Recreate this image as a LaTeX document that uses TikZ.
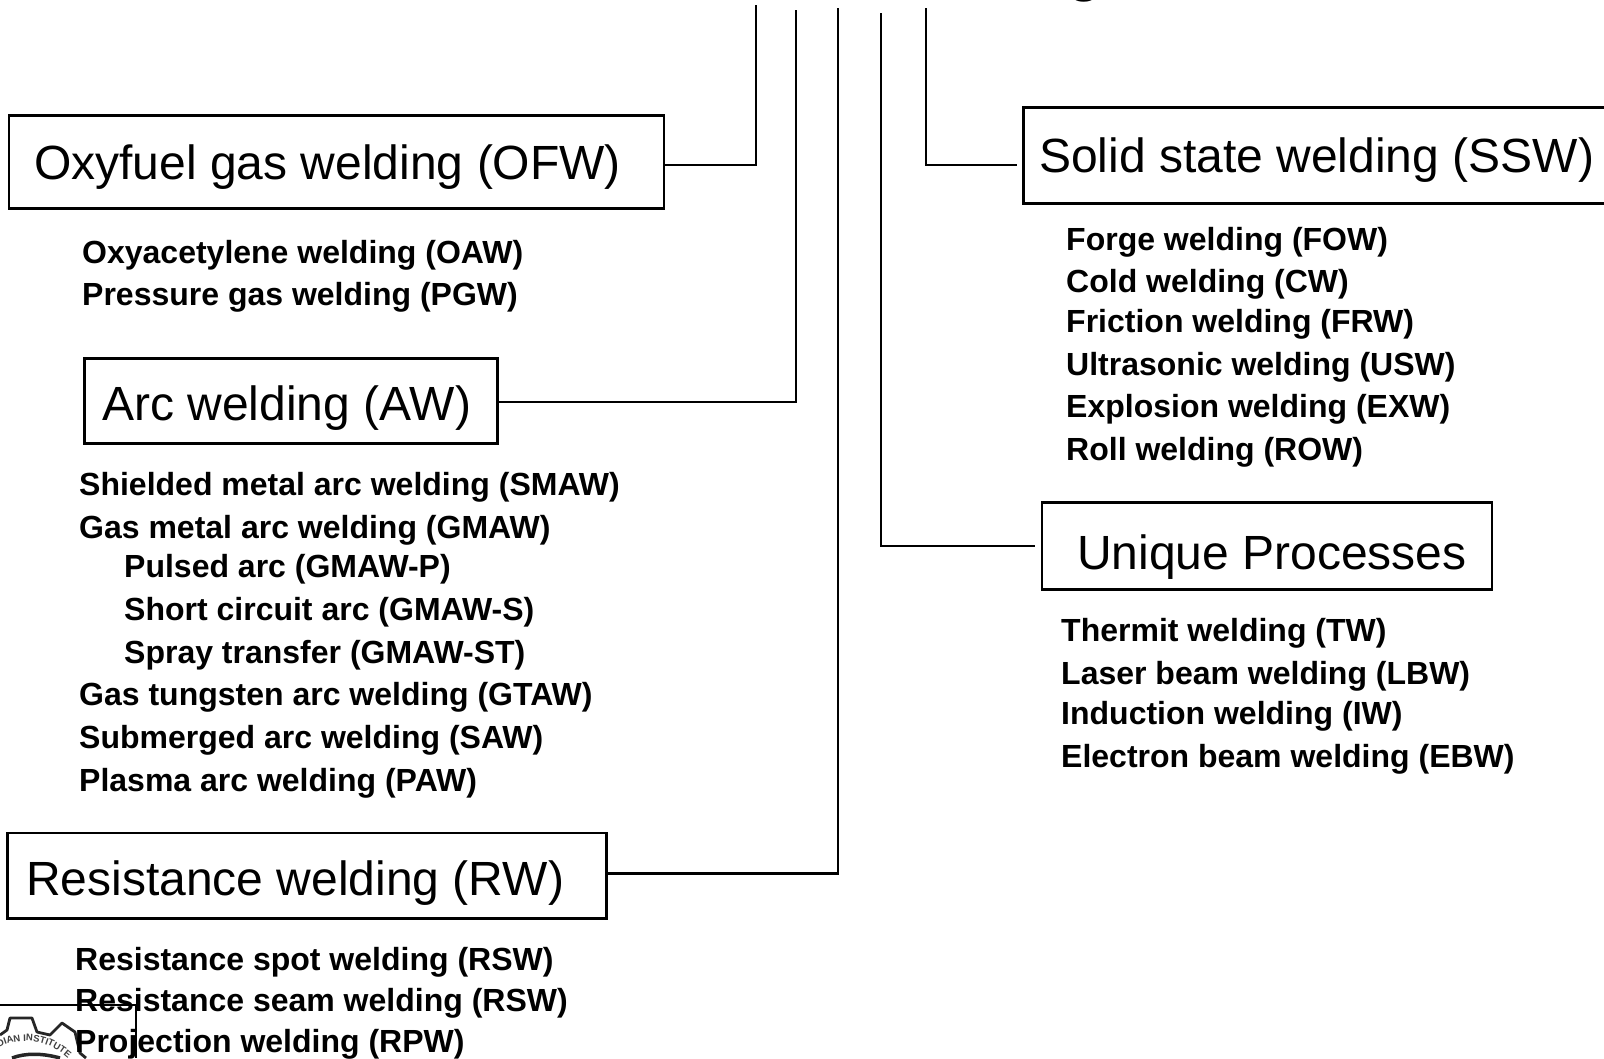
\documentclass[tikz,border=0pt]{standalone}
\usepackage{fontspec}
\setmainfont{Liberation Sans}
\usetikzlibrary{decorations.text}
\tikzset{
  x=1pt,y=-1pt,
  box/.style={draw=black,line width=2.6pt,inner sep=0pt,anchor=north west},
  boxlabel/.style={font=\fontsize{48}{48}\selectfont,anchor=base west,inner sep=0pt},
  item/.style={font=\bfseries\fontsize{32}{32}\selectfont,anchor=base west,inner sep=0pt},
  wire/.style={draw=black,line width=2.6pt,line cap=butt},
  logo/.style={draw=black!85,line width=2.8pt,line join=round},
}
\begin{document}
\begin{tikzpicture}
\useasboundingbox (0,0) rectangle (1604,1058);
\clip (0,0) rectangle (1604,1058);
\fill[white] (0,0) rectangle (1604,1058);
% logo fragment
\draw[logo] (0,1035) -- (7,1030) -- (10,1018) -- (32,1018) -- (37,1032) -- (50,1035) -- (62,1023) -- (75,1032) -- (80,1053) -- (86,1058);
\draw[black!85,line width=3.5pt] (12,1058) .. controls (25,1053) and (42,1053) .. (60,1058);
\path[decorate,decoration={text along path,text align=center,
  text={|\bfseries\fontsize{9.5}{9.5}\selectfont\color{black!75}|INDIAN INSTITUTE}}]
  (-14,1056) .. controls (10,1036) and (45,1034) .. (72,1062);
\coordinate (lgL) at (0,1005);
\coordinate (lgC) at (136,1005);
\coordinate (lgB) at (136,1058);
\draw[black,line width=2.6pt] (lgL) -- (lgC) -- (lgB);
% boxes
\node[box,minimum width=655pt,minimum height=93pt] (ofw) at (7.8,114.2) {};
\node[box,minimum width=413pt,minimum height=85pt] (aw) at (83,357) {};
\node[box,minimum width=599pt,minimum height=85.5pt] (rw) at (6,831.5) {};
\node[box,minimum width=620pt,minimum height=96pt] (ssw) at (1022,106) {};
\node[box,minimum width=450pt,minimum height=87pt] (up) at (1040.5,501) {};
% box labels
\node[boxlabel] (ofwt) at (34,179) {Oxyfuel gas welding (OFW)};
\node[boxlabel] (awt) at (102,420) {Arc welding (AW)};
\node[boxlabel] (rwt) at (26,895) {Resistance welding (RW)};
\node[boxlabel] (sswt) at (1039,172) {Solid state welding (SSW)};
\node[boxlabel] (upt) at (1077,569) {Unique Processes};
% heading remnant
\node[font=\fontsize{66}{66}\selectfont,anchor=base,inner sep=0pt] (head) at (1085,-12) {g};
% connector ends
\coordinate (t1) at (756,5);
\coordinate (t2) at (796,10);
\coordinate (t3) at (838,8);
\coordinate (t4) at (881,13);
\coordinate (t5) at (926,8);
\draw[wire] (t1) |- (ofw.east |- 0,165);
\draw[wire] (t2) |- (aw.east |- 0,402);
\draw[wire] (t3) |- (rw.east |- 0,873.5);
\draw[wire] (t4) |- (1035,546);
\draw[wire] (t5) |- (1017,165);
% items
\foreach \t/\xx/\yy/\n in {
Oxyacetylene welding (OAW)/82/263/a1,
Pressure gas welding (PGW)/82/305/a2,
Shielded metal arc welding (SMAW)/79/495/b1,
Gas metal arc welding (GMAW)/79/538/b2,
Pulsed arc (GMAW-P)/124/577/b3,
Short circuit arc (GMAW-S)/124/620/b4,
Spray transfer (GMAW-ST)/124/663/b5,
Gas tungsten arc welding (GTAW)/79/705/b6,
Submerged arc welding (SAW)/79/748/b7,
Plasma arc welding (PAW)/79/791/b8,
Resistance spot welding (RSW)/75/970/c1,
Resistance seam welding (RSW)/75/1011/c2,
Projection welding (RPW)/75/1052/c3,
Forge welding (FOW)/1066/250/d1,
Cold welding (CW)/1066/292/d2,
Friction welding (FRW)/1066/332/d3,
Ultrasonic welding (USW)/1066/375/d4,
Explosion welding (EXW)/1066/417/d5,
Roll welding (ROW)/1066/460/d6,
Thermit welding (TW)/1061/641/e1,
Laser beam welding (LBW)/1061/684/e2,
Induction welding (IW)/1061/724/e3,
Electron beam welding (EBW)/1061/767/e4}
{\node[item] (\n) at (\xx,\yy) {\t};}
\end{tikzpicture}
\end{document}
